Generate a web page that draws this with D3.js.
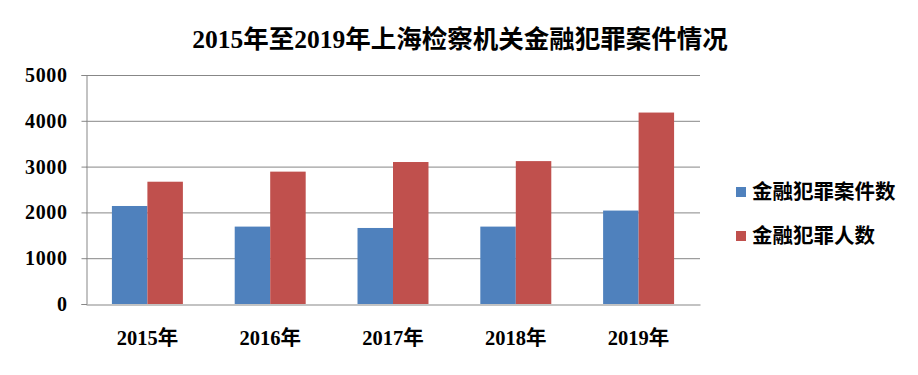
<!DOCTYPE html>
<html lang="zh">
<head>
  <meta charset="UTF-8">
  <title>2015年至2019年上海检察机关金融犯罪案件情况</title>
  <script src="https://cdn.jsdelivr.net/npm/d3@7.9.0/dist/d3.min.js"></script>
  <style>
    html, body { margin: 0; padding: 0; background: #fff; }
    svg text { font-family: "Liberation Serif", "Noto Sans CJK SC", serif; font-weight: bold; fill: #000; }
  </style>
</head>
<body>
  <svg id="chart" width="918" height="375"></svg>
  <script>
    // data
    const years = ["2015年", "2016年", "2017年", "2018年", "2019年"];
    const caseCounts = [2140, 1690, 1660, 1690, 2040];
    const personCounts = [2670, 2890, 3100, 3120, 4180];
    const seriesNames = ["金融犯罪案件数", "金融犯罪人数"];
    const yTicks = [0, 1000, 2000, 3000, 4000, 5000];

    const colors = ["#4F81BD", "#C0504D"];
    const svg = d3.select("#chart");
    const plotLeft = 86, plotRight = 700, plotTop = 75, plotBottom = 304;

    const x = d3.scaleBand().domain(years).range([plotLeft, plotRight])
      .paddingInner(0.422).paddingOuter(0.211);
    const xs = d3.scaleBand().domain([0, 1]).range([0, x.bandwidth()]);
    const y = d3.scaleLinear().domain([0, 5000]).range([plotBottom, plotTop]);

    // title
    svg.append("text")
      .attr("x", 460).attr("y", 48)
      .attr("text-anchor", "middle")
      .style("font-size", "25.5px")
      .text("2015年至2019年上海检察机关金融犯罪案件情况");

    // gridlines
    svg.append("g").selectAll("line")
      .data(yTicks.filter(d => d > 0))
      .join("line")
      .attr("x1", plotLeft).attr("x2", plotRight)
      .attr("y1", d => y(d) + 0.5).attr("y2", d => y(d) + 0.5)
      .attr("stroke", "#878787").attr("stroke-width", 1);

    // bars
    const groups = svg.append("g").selectAll("g")
      .data(years)
      .join("g")
      .attr("transform", d => `translate(${x(d)},0)`);

    groups.selectAll("rect")
      .data((d, i) => [caseCounts[i], personCounts[i]])
      .join("rect")
      .attr("x", (d, j) => xs(j))
      .attr("width", xs.bandwidth())
      .attr("y", d => y(d))
      .attr("height", d => y(0) - y(d))
      .attr("fill", (d, j) => colors[j]);

    // y axis
    const yAxis = svg.append("g")
      .attr("transform", `translate(${plotLeft + 0.5},0)`)
      .call(d3.axisLeft(y).tickValues(yTicks).tickSize(5).tickPadding(14).tickFormat(d3.format("d")));
    yAxis.select(".domain").attr("stroke", "#878787");
    yAxis.selectAll(".tick line").attr("stroke", "#878787");
    yAxis.selectAll("text").style("font-size", "20px").style("letter-spacing", "0.6px").attr("font-family", null);

    // x axis
    const xAxis = svg.append("g")
      .attr("transform", `translate(0,${plotBottom + 0.5})`)
      .call(d3.axisBottom(x).tickSize(0).tickPadding(26));
    xAxis.select(".domain").attr("stroke", "#878787");
    xAxis.selectAll("text").style("font-size", "20.5px").attr("font-family", null);

    // legend
    const legend = svg.append("g").selectAll("g")
      .data(seriesNames)
      .join("g")
      .attr("transform", (d, i) => `translate(736,${187 + i * 44})`);
    legend.append("rect")
      .attr("width", 10).attr("height", 10)
      .attr("fill", (d, i) => colors[i]);
    legend.append("text")
      .attr("x", 16).attr("y", 12)
      .style("font-size", "20.5px")
      .text(d => d);
  </script>
</body>
</html>
